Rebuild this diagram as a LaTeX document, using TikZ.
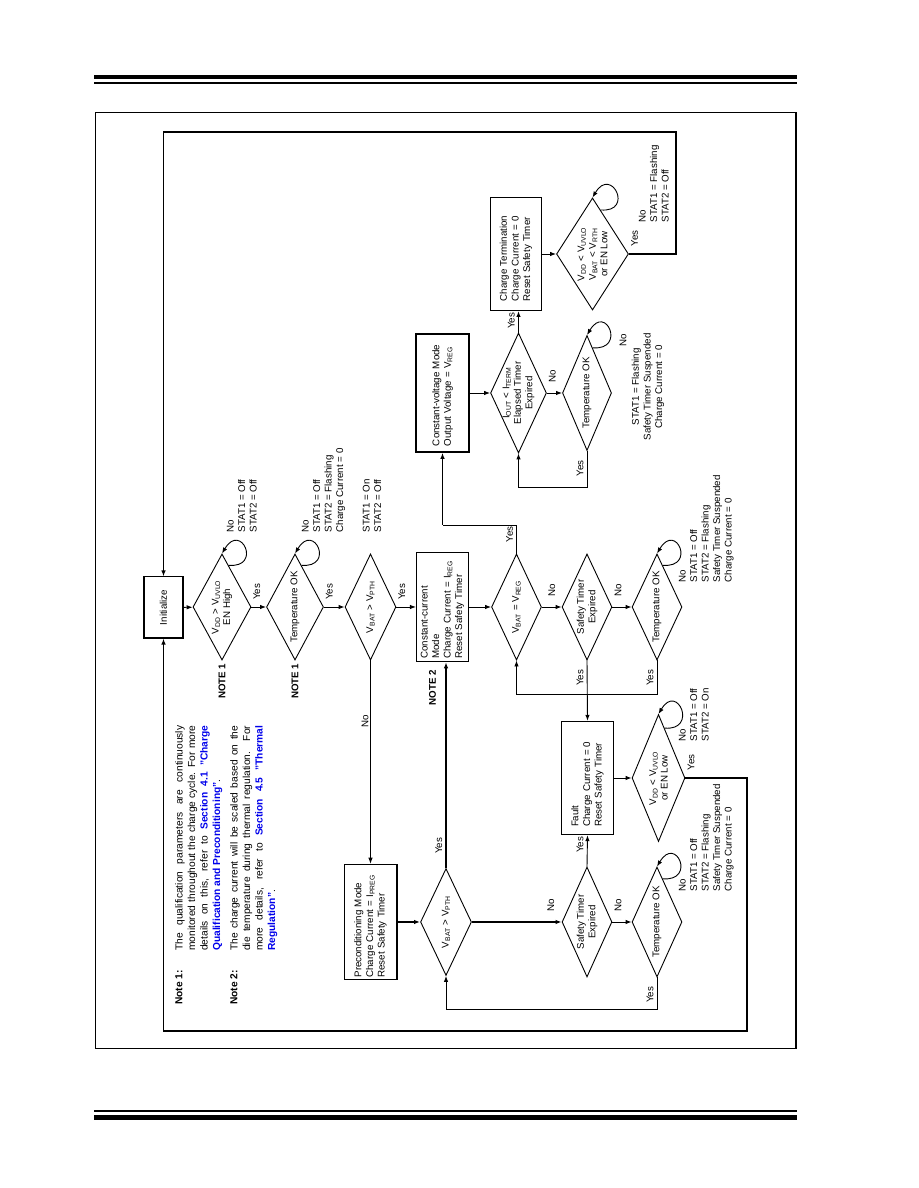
\documentclass[tikz,border=0pt]{standalone}
\usepackage{fontspec}
\setmainfont{Liberation Sans}
\usetikzlibrary{shapes.geometric,positioning,calc,arrows.meta}
\definecolor{linkblue}{RGB}{0,0,235}
\newcommand{\lo}[1]{\textsubscript{#1}}

\begin{document}
\begin{tikzpicture}[x=0.6667pt,y=0.6667pt,>={Latex[length=4pt,width=3pt]},
    txt/.style={font=\fontsize{6.5}{7.7}\selectfont,inner sep=1pt},
    box/.style={draw,line width=0.7pt,txt,align=left,inner sep=2pt},
    dec/.style 2 args={diamond,draw,line width=0.6pt,minimum width=#1,minimum height=#2,inner sep=0pt},
    flow/.style={->,line width=0.6pt},
    main/.style={->,line width=1.1pt},
    back/.style={->,line width=0.9pt},
    yes/.style={txt,pos=0,anchor=north west,xshift=3.5pt},
    yesr/.style={txt,pos=0,anchor=south west,xshift=8pt,yshift=1pt},
    yesl/.style={txt,pos=0,anchor=south east,xshift=-5pt,yshift=1pt},
    no/.style={txt,anchor=west,xshift=5.5pt},
    stat/.style={txt,align=left,anchor=north west},
    notelbl/.style={font=\fontsize{6.5}{7.7}\selectfont\bfseries,inner sep=1pt},
    notetxt/.style={font=\fontsize{6.8}{8.3}\selectfont,inner sep=0pt,anchor=north west}]
  \useasboundingbox (0,0) rectangle (918,1188);

  % page rules and frame
  \draw[line width=2.8pt] (94,1111) -- (797,1111);
  \draw[line width=0.9pt] (94,1105) -- (797,1105);
  \draw[line width=0.9pt] (94,77) -- (797,77);
  \draw[line width=3.3pt] (94,70.5) -- (797,70.5);
  \draw[line width=1pt] (95.5,139.5) rectangle (796,1075.5);

  \begin{scope}[shift={(918,0)},rotate=90,transform shape]
    % notes
    \node[notetxt,font=\fontsize{6.8}{8.3}\selectfont\bfseries] (note1lbl) at (183,743) {Note 1:};
    \node[notetxt,text width=150pt,align=justify] (note1) at (237,743)
      {The qualification parameters are continuously\linebreak
       monitored throughout the charge cycle. For more\linebreak
       details on this, refer to {\color{linkblue}\bfseries Section 4.1 "Charge}\linebreak
       {\color{linkblue}\bfseries Qualification and Preconditioning"}.};
    \node[notetxt,font=\fontsize{6.8}{8.3}\selectfont\bfseries] (note2lbl) at (183,688) {Note 2:};
    \node[notetxt,text width=150pt,align=justify] (note2) at (237,688)
      {The charge current will be scaled based on the\linebreak
       die temperature during thermal regulation. For\linebreak
       more details, refer to {\color{linkblue}\bfseries Section 4.5 "Thermal}\linebreak
       {\color{linkblue}\bfseries Regulation"}.};

    % main column
    \node[box,align=center,minimum width=40.7pt,minimum height=26pt] (init) at (580.5,754.5) {Initialize};
    \node[dec={70.7pt}{38.7pt},label={[txt,align=center]center:{V\lo{DD} > V\lo{UVLO}\\EN High}}] (d1) at (581,696) {};
    \node[dec={70.7pt}{38pt},label={[txt]center:Temperature OK}] (d2) at (581,623) {};
    \node[dec={70.7pt}{34pt},label={[txt]center:{V\lo{BAT} > V\lo{PTH}}}] (d3) at (581,547.5) {};
    \node[box,text width=69pt,minimum height=34.7pt] (cc) at (581,475.5)
      {Constant-current\\Mode\\Charge Current = I\lo{REG}\\Reset Safety Timer};
    \node[dec={70.7pt}{33.3pt},label={[txt]center:{V\lo{BAT} = V\lo{REG}}}] (d4) at (581,401.5) {};
    \node[dec={70.7pt}{33.3pt},label={[txt,align=center]center:{Safety Timer\\Expired}}] (d5) at (581,331) {};
    \node[dec={70.7pt}{33.3pt},label={[txt]center:Temperature OK}] (d6) at (581,261) {};

    % fault
    \node[box,line width=1pt,inner xsep=5pt,text width=65.3pt,minimum height=34.4pt] (fault) at (410,330.5)
      {Fault\\Charge Current = 0\\Reset Safety Timer};
    \node[dec={84.7pt}{35.3pt},label={[txt,align=center]center:{V\lo{DD} < V\lo{UVLO}\\or EN Low}}] (d7) at (410,259.5) {};

    % preconditioning
    \node[box,inner xsep=1.5pt,text width=74pt,minimum height=35.3pt] (pre) at (266,547.5)
      {Preconditioning Mode\\Charge Current = I\lo{PREG}\\Reset Safety Timer};
    \node[dec={71.3pt}{34pt},label={[txt]center:{V\lo{BAT} > V\lo{PTH}}}] (d8) at (266,472) {};
    \node[dec={73.3pt}{33.3pt},label={[txt,align=center]center:{Safety Timer\\Expired}}] (d9) at (266,331) {};
    \node[dec={73.3pt}{33.3pt},label={[txt]center:Temperature OK}] (d10) at (266,261) {};

    % constant voltage and termination
    \node[box,line width=1pt,inner xsep=4pt,text width=70.7pt,minimum height=35.3pt] (cv) at (795,475.5)
      {Constant-voltage Mode\\Output Voltage = V\lo{REG}};
    \node[dec={80pt}{37.3pt},label={[txt,align=center]center:{I\lo{OUT} < I\lo{TERM}\\Elapsed Timer\\Expired}}] (d11) at (795,399.5) {};
    \node[dec={76.7pt}{32.7pt},label={[txt]center:Temperature OK}] (d12) at (795,331) {};
    \node[box,inner xsep=6pt,text width=63.3pt,minimum height=34.5pt] (ct) at (934,402)
      {Charge Termination\\Charge Current = 0\\Reset Safety Timer};
    \node[dec={74.7pt}{48pt},label={[txt,align=center]center:{V\lo{DD} < V\lo{UVLO}\\V\lo{BAT} < V\lo{RTH}\\or EN Low}}] (d13) at (934,325.5) {};

    % note marks
    \node[notelbl,left=1pt of d1.west] (n1a) {NOTE 1};
    \node[notelbl,left=1pt of d2.west] (n1b) {NOTE 1};
    \node[notelbl,anchor=east] (n2) at ($(cc.west)+(-6,10)$) {NOTE 2};

    % status texts
    \node[stat] (s1) at (654,693) {No\\STAT1 = Off\\STAT2 = Off};
    \node[stat] (s2) at (654,618) {No\\STAT1 = Off\\STAT2 = Flashing\\Charge Current = 0};
    \node[stat] (s3) at (654,557) {STAT1 = On\\STAT2 = Off};
    \node[stat] (s6) at (604,241) {No\\STAT1 = Off\\STAT2 = Flashing\\Safety Timer Suspended\\Charge Current = 0};
    \node[stat] (s7) at (445,241) {No\\STAT1 = Off\\STAT2 = On};
    \node[stat] (s10) at (295,241) {No\\STAT1 = Off\\STAT2 = Flashing\\Safety Timer Suspended\\Charge Current = 0};
    \node[txt] (s12no) at (848,295) {No};
    \node[txt,align=center] (s12) at (801,270) {STAT1 = Flashing\\Safety Timer Suspended\\Charge Current = 0};
    \node[stat] (s13) at (964,281) {No\\STAT1 = Flashing\\STAT2 = Off};

    % connectors
    \draw[flow] (init) -- (d1);
    \draw[flow] (d1) -- node[yes] {Yes} (d2);
    \draw[flow] (d2) -- node[yes] {Yes} (d3);
    \draw[flow] (d3) -- node[yes] {Yes} (cc);
    \draw[flow] (d3.west) -- node[txt,pos=.3,above] {No} (pre);
    \draw[main] (pre) -- (d8);
    \draw[flow] (cc) -- (d4);
    \draw[flow] (d4) -- node[no,midway] {No} (d5);
    \draw[flow] (d5) -- node[no,pos=.3] {No} (d6);
    \draw[main] (d8) -- node[no,pos=.88] {No} (d9);
    \draw[flow] (d9) -- node[no,pos=.3] {No} (d10);
    \draw[main] (d8.east) -- node[yesr] {Yes} (d8.east -| cc.west);
    \draw[flow] (d9.east) -- node[yesr] {Yes} (fault.west);
    \draw[flow] (d5.west) -- node[yesl] {Yes} (fault.east);
    \draw[flow] (d6.west) -- node[yesl] {Yes} (494,261) |- (d4.west);
    \draw[flow] (d10.west) -- node[yesl] {Yes} (179,261) |- (d8.west);
    \draw[flow] (fault) -- (d7);
    \draw[line width=0.6pt] (d4.east) -- node[yesr,xshift=-2pt] {Yes} (663,401.5) -- (663,475.5) coordinate (cvin);
    \draw[main] (cvin) -- (cv);
    \draw[flow] (cv) -- (d11);
    \draw[flow] (d11) -- node[no,pos=.35] {No} (d12);
    \draw[main] (d11.east) -- node[yesr,xshift=-7pt] {Yes} (d11.east -| ct.west);
    \draw[flow] (d12.west) -- node[yesl] {Yes} (701,331) |- (d11.west);
    \draw[flow] (ct) -- (d13);
    \draw[back] (d13.south) -- node[yes] {Yes} (934,242) -- (1056,242) |- (init.east);
    \draw[back] (d7.south) -- node[yes] {Yes} (410,171) -- (157,171) |- (init.west);

    % self loops
    \draw[flow] ($(d1.east)!.22!(d1.south)$) .. controls +(-3,-34) and +(32,-19) .. (d1.east);
    \draw[flow] ($(d2.east)!.22!(d2.south)$) .. controls +(-3,-34) and +(32,-19) .. (d2.east);
    \draw[flow] ($(d6.east)!.22!(d6.south)$) .. controls +(-3,-34) and +(32,-19) .. (d6.east);
    \draw[flow] ($(d7.east)!.22!(d7.south)$) .. controls +(-3,-34) and +(32,-19) .. (d7.east);
    \draw[flow] ($(d10.east)!.22!(d10.south)$) .. controls +(-3,-34) and +(32,-19) .. (d10.east);
    \draw[flow] ($(d12.east)!.22!(d12.south)$) .. controls +(-3,-34) and +(32,-19) .. (d12.east);
    \draw[flow] ($(d13.east)!.22!(d13.south)$) .. controls +(-3,-34) and +(32,-19) .. (d13.east);
  \end{scope}
\end{tikzpicture}
\end{document}
